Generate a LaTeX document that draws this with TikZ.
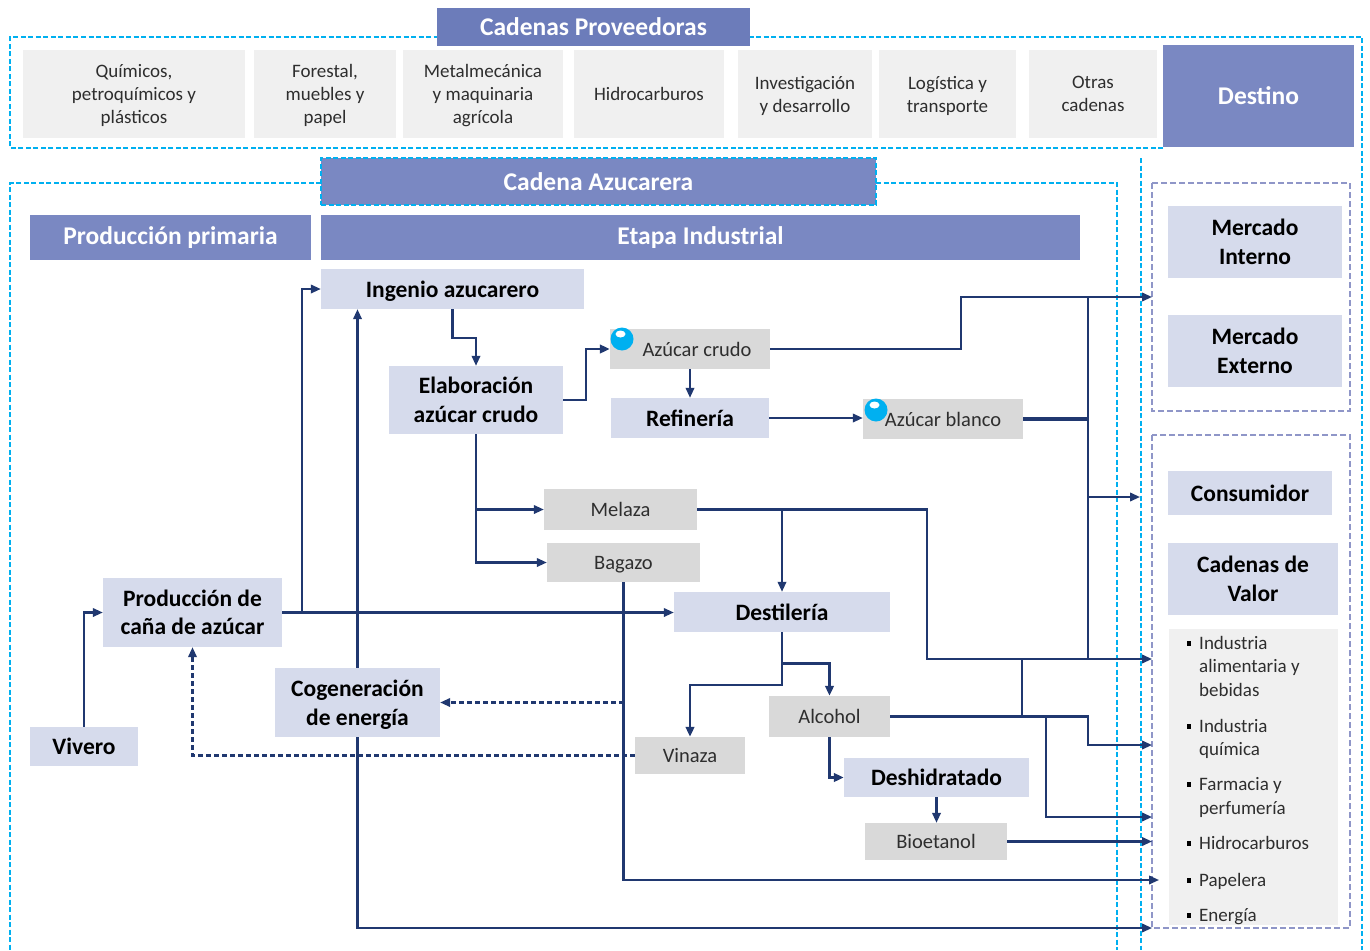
\documentclass[tikz,border=0pt]{standalone}
\usepackage{fontspec}
\setmainfont{Carlito}
\usetikzlibrary{arrows.meta}
\definecolor{navy}{RGB}{32,56,112}
\definecolor{hdrc}{RGB}{122,136,194}
\definecolor{hdrdark}{RGB}{108,124,186}
\definecolor{stagec}{RGB}{214,219,236}
\definecolor{prodc}{RGB}{217,217,217}
\definecolor{suppc}{RGB}{240,240,240}
\definecolor{cyanc}{RGB}{0,176,240}
\definecolor{purc}{RGB}{143,150,200}
\tikzset{
 sz/.style 2 args={minimum width=#1pt, minimum height=#2pt},
 hdr/.style={fill=hdrc, text=white, font=\fontsize{25.5}{30}\selectfont\bfseries, inner sep=0pt, align=center},
 supp/.style={fill=suppc, text=black!82, font=\fontsize{19}{23}\selectfont, inner sep=0pt, align=center, text depth=0pt},
 stage/.style={fill=stagec, text=black, font=\fontsize{23.5}{28.5}\selectfont\bfseries, inner sep=0pt, align=center},
 prod/.style={fill=prodc, text=black!82, font=\fontsize{20.5}{25}\selectfont, inner sep=0pt, align=center},
 conn/.style={draw=navy, line width=2.1pt, -{Triangle[length=10pt,width=8.5pt]}},
 dconn/.style={conn, dash pattern=on 5pt off 3pt},
 wire/.style={draw=navy, line width=2.1pt},
 cyand/.style={draw=cyanc, line width=2pt, dash pattern=on 5pt off 2.5pt},
 purd/.style={draw=purc, line width=1.6pt, dash pattern=on 6pt off 3pt},
 item/.style={font=\fontsize{19}{23}\selectfont, text=black!82, inner sep=0pt, anchor=base west},
 bul/.style={fill=black, inner sep=0pt, minimum width=4.5pt, minimum height=5pt},
 bubble/.style={circle, fill=cyanc, inner sep=0pt, minimum size=23pt},
}
\begin{document}
\begin{tikzpicture}[x=1pt,y=-1pt]
\path[use as bounding box, fill=white] (0,0) rectangle (1370,950);

% dashed outlines
\draw[cyand] (1163,148) -- (10,148) -- (10,37) -- (1362,37) -- (1362,950);
\draw[cyand] (1141,158) -- (1141,950);
\draw[cyand] (321,183) -- (10,183) -- (10,950);
\draw[cyand] (876,183) -- (1117,183) -- (1117,950);
\draw[purd] (1152,183) rectangle (1350,411);
\draw[purd] (1152,435) rectangle (1350,928);

% headers and suppliers
\node[hdr, sz={313}{38}, fill=hdrdark] (tprov) at (593.5,27) {Cadenas Proveedoras};
\node[supp, sz={222}{88}] (s1) at (134,94) {Químicos,\\petroquímicos y\\plásticos};
\node[supp, sz={142}{88}] (s2) at (325,94) {Forestal,\\muebles y\\papel};
\node[supp, sz={160}{88}] (s3) at (483,94) {Metalmecánica\\y maquinaria\\agrícola};
\node[supp, sz={150}{88}] (s4) at (649,94) {Hidrocarburos};
\node[supp, sz={134}{88}] (s5) at (805,94) {Investigación\\y desarrollo};
\node[supp, sz={137}{88}] (s6) at (947.5,94) {Logística y\\transporte};
\node[supp, sz={128}{88}] (s7) at (1093,94) {Otras\\cadenas};
\node[hdr, sz={191}{102}] (dest) at (1258.5,96) {Destino};

\node[hdr, sz={555}{47}, draw=cyanc, line width=2pt, dash pattern=on 5pt off 2.5pt] (taz) at (598.5,181.5) {Cadena Azucarera};
\node[hdr, sz={281}{45}] (tprim) at (170.5,237.5) {Producción primaria};
\node[hdr, sz={759}{45}] (tind) at (700.5,237.5) {Etapa Industrial};

% stage nodes
\node[stage, sz={263}{40}, text depth=0pt] (ingenio) at (452.5,289) {Ingenio azucarero};
\node[stage, sz={174}{68}] (elab) at (476,400) {Elaboración\\azúcar crudo};
\node[stage, sz={158}{40}] (refin) at (690,418) {Refinería};
\node[stage, sz={216}{40}] (destil) at (782,612) {Destilería};
\node[stage, sz={179}{69}] (prodcana) at (192.5,612.5) {Producción de\\caña de azúcar};
\node[stage, sz={165}{69}, text depth=0pt] (cogen) at (357.5,702.5) {Cogeneración\\de energía};
\node[stage, sz={108}{39}] (vivero) at (84,746.5) {Vivero};
\node[stage, sz={185}{39}] (deshid) at (936.5,777.5) {Deshidratado};
\node[stage, sz={174}{72}] (mint) at (1255,242) {Mercado\\Interno};
\node[stage, sz={174}{72}] (mext) at (1255,351) {Mercado\\Externo};
\node[stage, sz={164}{44}] (consum) at (1250,493) {Consumidor};
\node[stage, sz={170}{72}] (cadval) at (1253,579) {Cadenas de\\Valor};

% product nodes
\node[prod, sz={160}{40}] (acrudo) at (690,349) {\hspace*{14pt}Azúcar crudo};
\node[prod, sz={160}{40}] (ablanco) at (943,419) {Azúcar blanco};
\node[prod, sz={153}{41}] (melaza) at (620.5,509.5) {Melaza};
\node[prod, sz={153}{39}, text depth=0pt] (bagazo) at (623.5,562.5) {Bagazo};
\node[prod, sz={121}{41}] (alcohol) at (829.5,716.5) {Alcohol};
\node[prod, sz={110}{37}] (vinaza) at (690,755.5) {Vinaza};
\node[prod, sz={142}{37}] (bioet) at (936,841.5) {Bioetanol};

% list of value chains
\node[fill=suppc, inner sep=0pt, sz={169}{296}] (lista) at (1253,777) {};
\node[item] (l1a) at (1199,649) {Industria};
\node[item] (l1b) at (1199,672) {alimentaria y};
\node[item] (l1c) at (1199,696) {bebidas};
\node[item] (l2a) at (1199,732) {Industria};
\node[item] (l2b) at (1199,755) {química};
\node[item] (l3a) at (1199,790) {Farmacia y};
\node[item] (l3b) at (1199,814) {perfumería};
\node[item] (l4) at (1199,849) {Hidrocarburos};
\node[item] (l5) at (1199,886) {Papelera};
\node[item] (l6) at (1199,921) {Energía};
\foreach \yy/\nm in {643/q1,726/q2,784/q3,843/q4,880/q5,915/q6}
  \node[bul] (\nm) at (1189,\yy) {};

% free ends and bends
\coordinate (tMI) at (1152,297);
\coordinate (kA) at (961,297);
\coordinate (busT) at (1088,297);
\coordinate (busB) at (1088,659);
\coordinate (tCons) at (1140,497);
\coordinate (kM) at (927,659);
\coordinate (tAli) at (1152,659);
\coordinate (kQ) at (1088,745);
\coordinate (tQui) at (1152,745);
\coordinate (kV) at (1022,659);
\coordinate (kF) at (1046,716.5);
\coordinate (tFar) at (1152,817);
\coordinate (tHid) at (1152,841.5);
\coordinate (tPap) at (1159,880);
\coordinate (tEne) at (1152,928);
\coordinate (jProd) at (302,612.5);

% connectors
\draw[conn] (vivero.north) |- (prodcana.west);
\draw[conn] (prodcana.east) -- (prodcana.east -| destil.west);
\draw[conn] (jProd) |- (ingenio.west);
\draw[conn] (cogen.north) -- (cogen.north |- ingenio.south);
\draw[conn] (cogen.south) |- (tEne);
\draw[conn] (ingenio.south) -- ++(0,29) -| (elab.north);
\draw[conn, line width=2.5pt] (elab.east) -- ++(23,0) |- (acrudo.west);
\draw[conn] (acrudo.south) -- (refin.north);
\draw[conn] (refin.east) -- (refin.east -| ablanco.west);
\draw[conn] (acrudo.east) -| (kA) -- (tMI);
\draw[wire, line width=3.5pt] (ablanco.east) -- (ablanco.east -| busT);
\draw[wire] (busT) -- (busB);
\draw[conn] (tCons -| busT) -- (tCons);
\draw[conn] (elab.south) |- (bagazo.west);
\draw[conn] (elab.south |- melaza.west) -- (melaza.west);
\draw[conn] (melaza.east) -| (kM) -- (tAli);
\draw[conn] (destil.north |- melaza.east) -- (destil.north);
\draw[dconn] (bagazo.south) |- (cogen.east);
\draw[conn] (bagazo.south) |- (tPap);
\draw[dconn] (vinaza.west) -| (prodcana.south);
\draw[conn, line width=2.8pt] (destil.south) -- ++(0,31) -| (alcohol.north);
\draw[conn, line width=2.5pt] (destil.south) -- ++(0,53) -| (vinaza.north);
\draw[conn, line width=2.8pt] (alcohol.south) |- (deshid.west);
\draw[conn] (deshid.south) -- (deshid.south |- bioet.north);
\draw[conn] (bioet.east) -- (tHid);
\draw[conn] (alcohol.east) -| (kQ) -- (tQui);
\draw[wire] (kV) -- (kV |- alcohol.east);
\draw[conn] (kF) |- (tFar);

% bubbles
\node[bubble] (bub1) at (622,339) {};
\fill[white] (620.5,334) ellipse (5 and 3.5);
\node[bubble] (bub2) at (876,410) {};
\fill[white] (874.5,405) ellipse (5 and 3.5);
\end{tikzpicture}
\end{document}
